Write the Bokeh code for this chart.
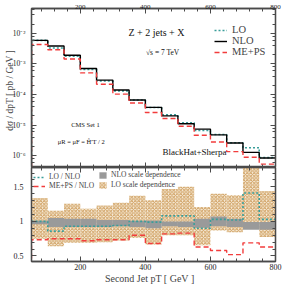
import numpy as np
from bokeh.plotting import figure
from bokeh.layouts import column
from bokeh.models import (Range1d, LinearAxis, LogAxis, LogTicker, SingleIntervalTicker,
                          CustomJSTickFormatter, Legend, LegendItem, Label)
from bokeh.embed import file_html
from bokeh.resources import INLINE

# ---------------- data ----------------
bin_edges = [50, 100, 150, 200, 250, 300, 350, 400, 450, 500, 550, 600, 650, 700, 750, 800]
nlo = [5.9e-3, 3.86e-3, 1.93e-3, 7.1e-4, 2.96e-4, 1.40e-4, 6.6e-5, 3.8e-5,
       2.0e-5, 1.1e-5, 7.4e-6, 4.8e-6, 2.6e-6, 1.28e-6, 8.4e-7]
lo_over_nlo = [1.0, 0.86, 0.93, 0.93, 0.93, 0.94, 1.0, 0.99,
               1.08, 1.08, 0.90, 1.03, 1.02, 1.41, 1.03]
meps_over_nlo = [0.735, 0.75, 0.75, 0.72, 0.735, 0.735, 0.80, 0.68,
                 0.82, 0.83, 0.63, 0.58, 0.52, 0.69, 0.63]
nlo_band_low = [0.96, 0.92, 0.92, 0.92, 0.92, 0.93, 0.92, 0.90,
                0.93, 0.92, 0.91, 0.93, 0.92, 0.88, 0.88]
nlo_band_high = [1.01, 1.05, 1.04, 1.04, 1.02, 1.02, 1.01, 1.015,
                 1.00, 1.00, 1.04, 1.07, 1.04, 0.99, 0.99]
lo_band_low = [0.75, 0.64, 0.69, 0.69, 0.70, 0.725, 0.76, 0.665,
               0.80, 0.80, 0.655, 0.87, 0.845, 0.925, 0.775]
lo_band_high = [1.34, 1.155, 1.255, 1.185, 1.23, 1.27, 1.37, 1.305,
                1.47, 1.50, 1.21, 1.40, 1.38, 1.95, 1.44]
x_tick_step = 200
ratio_tick_step = 0.5

# derived series
lo = [n * r for n, r in zip(nlo, lo_over_nlo)]
meps = [n * r for n, r in zip(nlo, meps_over_nlo)]

FONT = "Liberation Serif"
FRAME = "#4a4a4a"
TEAL = "#3a9e9a"
RED = "#f23c3c"
GRAY = "#9a9a9a"


def step_xy(edges, vals, start=None):
    xs, ys = [], []
    if start is not None:
        xs.append(edges[0]); ys.append(start)
    for i, v in enumerate(vals):
        xs += [edges[i], edges[i + 1]]
        ys += [v, v]
    return xs, ys


blank_fmt = CustomJSTickFormatter(code="return '';")


def style_axis(ax, labels=True):
    ax.axis_line_color = FRAME
    ax.axis_line_width = 1.3
    ax.major_tick_in = 5
    ax.major_tick_out = 0
    ax.minor_tick_in = 3
    ax.minor_tick_out = 0
    ax.major_tick_line_color = FRAME
    ax.minor_tick_line_color = FRAME
    ax.major_label_text_font = FONT
    ax.major_label_text_color = "#222222"
    ax.major_label_text_font_size = "8px"
    if not labels:
        ax.formatter = blank_fmt
        ax.major_label_text_font_size = "1px"
        ax.major_label_standoff = 0


log_fmt = CustomJSTickFormatter(code="""
const e = Math.round(Math.log10(tick));
const m = {'-':'\u207b','0':'\u2070','1':'\u00b9','2':'\u00b2','3':'\u00b3','4':'\u2074',
           '5':'\u2075','6':'\u2076','7':'\u2077','8':'\u2078','9':'\u2079'};
return '10' + String(e).split('').map(c => m[c]).join('');
""")
lin_fmt = CustomJSTickFormatter(code="return String(Number(tick.toFixed(2)));")

# ---------------- top panel ----------------
p1 = figure(frame_width=244, frame_height=159, x_range=Range1d(50, 800), y_range=Range1d(4.1e-7, 6.5e-2),
            y_axis_type="log", x_axis_location="above",
            output_backend="svg", toolbar_location=None,
            min_border_left=31, min_border_right=7, min_border_top=8, min_border_bottom=0)
p1.grid.visible = False
p1.outline_line_color = FRAME
p1.outline_line_width = 1.3

p1.xaxis.ticker = SingleIntervalTicker(interval=x_tick_step, num_minor_ticks=5)
p1.xaxis.formatter = lin_fmt
for ax in p1.xaxis:
    style_axis(ax)
    ax.major_label_text_font_size = "7px"
    ax.major_label_standoff = 0
p1.yaxis.ticker = LogTicker()
p1.yaxis.formatter = log_fmt
for ax in p1.yaxis:
    style_axis(ax)
    ax.major_label_text_font_size = "7.5px"
    ax.major_label_standoff = 6
    ax.axis_label = "dσ / dpT   [ pb / GeV ]"
    ax.axis_label_text_font = FONT
    ax.axis_label_text_font_style = "normal"
    ax.axis_label_text_font_size = "9.5px"
    ax.axis_label_standoff = -6

bx = LinearAxis(ticker=SingleIntervalTicker(interval=x_tick_step, num_minor_ticks=5))
style_axis(bx, labels=False)
p1.add_layout(bx, "below")
ry = LogAxis(ticker=LogTicker())
style_axis(ry, labels=False)
p1.add_layout(ry, "right")

lx, ly = step_xy(bin_edges, lo, start=1e-9)
r_lo = p1.line(lx, ly, line_color=TEAL, line_width=1.6, line_dash="2 2")
nx, ny = step_xy(bin_edges, nlo, start=1e-9)
r_nlo = p1.line(nx, ny, line_color="black", line_width=1.4)
mx, my = step_xy(bin_edges, meps, start=1e-9)
r_meps = p1.line(mx, my, line_color=RED, line_width=1.4, line_dash="5 3")

leg1 = Legend(items=[LegendItem(label="LO", renderers=[r_lo]),
                     LegendItem(label="NLO", renderers=[r_nlo]),
                     LegendItem(label="ME+PS", renderers=[r_meps])],
              location=(183, 110), background_fill_alpha=0, border_line_alpha=0,
              label_text_font=FONT, label_text_font_size="10.5px",
              glyph_width=13, glyph_height=8, label_height=8, label_standoff=5,
              padding=0, margin=0, spacing=-2)
p1.add_layout(leg1)

def add_text(p, x, y, text, size):
    p.add_layout(Label(x=x, y=y, text=text, text_align="center", text_baseline="middle",
                       text_font=FONT, text_font_size=size, text_color="#111111"))

add_text(p1, 434, 10 ** -1.97, "Z + 2 jets + X", "10px")
add_text(p1, 459, 10 ** -2.617, "√s  =  7 TeV", "7.5px")
add_text(p1, 216, 10 ** -4.967, "CMS Set 1", "6.5px")
add_text(p1, 213, 10 ** -5.533, "μR  =  μF  =  Ĥ′T / 2", "6.5px")
add_text(p1, 551, 10 ** -5.867, "BlackHat+Sherpa", "9px")

# ---------------- ratio panel ----------------
p2 = figure(frame_width=244, frame_height=94, x_range=p1.x_range, y_range=Range1d(0.42, 1.78),
            output_backend="svg", toolbar_location=None,
            min_border_left=31, min_border_right=7, min_border_top=0, min_border_bottom=23)
p2.grid.visible = False
p2.outline_line_color = FRAME
p2.outline_line_width = 1.3

p2.xaxis.ticker = SingleIntervalTicker(interval=x_tick_step, num_minor_ticks=5)
p2.xaxis.formatter = lin_fmt
for ax in p2.xaxis:
    style_axis(ax)
    ax.major_label_standoff = 2
    ax.axis_label = "Second Jet  pT   [ GeV ]"
    ax.axis_label_text_font = FONT
    ax.axis_label_text_font_style = "normal"
    ax.axis_label_text_font_size = "10px"
    ax.axis_label_standoff = 0
p2.yaxis.ticker = SingleIntervalTicker(interval=ratio_tick_step, num_minor_ticks=5)
p2.yaxis.formatter = lin_fmt
for ax in p2.yaxis:
    style_axis(ax)
    ax.major_label_standoff = 8

tx = LinearAxis(ticker=SingleIntervalTicker(interval=x_tick_step, num_minor_ticks=5))
style_axis(tx, labels=False)
p2.add_layout(tx, "above")
ry2 = LinearAxis(ticker=SingleIntervalTicker(interval=ratio_tick_step, num_minor_ticks=5))
style_axis(ry2, labels=False)
p2.add_layout(ry2, "right")

r_loband = p2.quad(left=bin_edges[:-1], right=bin_edges[1:], bottom=lo_band_low, top=lo_band_high,
                   fill_color="#f8eedc", line_color=None,
                   hatch_pattern="diagonal_cross", hatch_color="#cf9f60",
                   hatch_scale=3.5, hatch_weight=1)
r_nloband = p2.quad(left=bin_edges[:-1], right=bin_edges[1:], bottom=nlo_band_low, top=nlo_band_high,
                    fill_color=GRAY, line_color=None)
rx, ry_ = step_xy(bin_edges, lo_over_nlo)
r_rlo = p2.line(rx, ry_, line_color=TEAL, line_width=1.6, line_dash="2 2")
qx, qy = step_xy(bin_edges, meps_over_nlo, start=0.0)
r_rmeps = p2.line(qx, qy, line_color=RED, line_width=1.4, line_dash="5 3")

leg2 = Legend(items=[LegendItem(label="LO / NLO", renderers=[r_rlo]),
                     LegendItem(label="ME+PS / NLO", renderers=[r_rmeps])],
              location=(2, 71), background_fill_alpha=0, border_line_alpha=0,
              label_text_font=FONT, label_text_font_size="7.5px",
              glyph_width=12, glyph_height=8, label_height=9, label_standoff=4,
              padding=0, margin=0, spacing=0)
leg3 = Legend(items=[LegendItem(label="NLO scale dependence", renderers=[r_nloband]),
                     LegendItem(label="LO scale dependence", renderers=[r_loband])],
              location=(67, 72), background_fill_alpha=0, border_line_alpha=0,
              label_text_font=FONT, label_text_font_size="7.5px",
              glyph_width=9, glyph_height=8, label_height=9, label_standoff=4,
              padding=0, margin=0, spacing=1)
p2.add_layout(leg2)
p2.add_layout(leg3)

layout = column(p1, p2, spacing=0)
layout.styles = {"position": "absolute", "left": "0px", "top": "0px"}

open("out.html", "w").write(file_html(layout, INLINE))
